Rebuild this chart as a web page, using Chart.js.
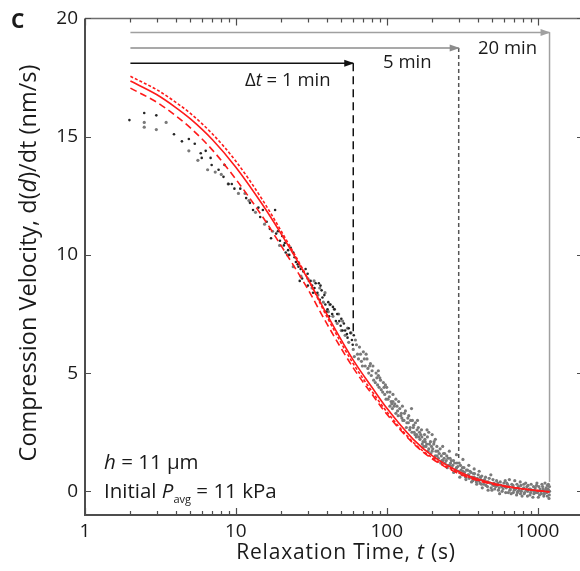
<!DOCTYPE html>
<html>
<head>
<meta charset="utf-8">
<script src="https://cdn.jsdelivr.net/npm/chart.js@4.4.1/dist/chart.umd.min.js"></script>
<style>
  html, body { margin: 0; padding: 0; background: #fff; overflow: hidden; }
  #wrap { width: 580px; height: 571px; overflow: hidden; }
  canvas { display: block; }
</style>
</head>
<body>
<div id="wrap"><canvas id="chart" width="590" height="571"></canvas></div>
<script>
// ------------------------------------------------------------
// Data (t in s, velocity in nm/s)
// ------------------------------------------------------------
const fitTime     = [2, 3, 4, 5, 7, 10, 15, 20, 30, 40, 60, 80, 100, 150, 200, 300, 400, 600, 800, 1000, 1200];
const fitVel      = [17.35, 16.77, 16.23, 15.75, 14.87, 13.71, 12.13, 10.88, 8.98, 7.5, 5.55, 4.39, 3.52, 2.2, 1.51, 0.84, 0.52, 0.24, 0.11, 0.03, -0.02];
const fitUpperVel = [17.55, 16.98, 16.45, 15.98, 15.11, 13.96, 12.33, 11.0, 9.0, 7.4, 5.4, 4.22, 3.37, 2.07, 1.42, 0.78, 0.48, 0.22, 0.1, 0.03, -0.02];
const fitLowerVel = [17.05, 16.45, 15.88, 15.37, 14.43, 13.2, 11.62, 10.38, 8.55, 7.1, 5.22, 4.1, 3.27, 2.03, 1.38, 0.75, 0.46, 0.21, 0.1, 0.03, -0.02];

// early measurements (dark dots)
const blackPoints = [
  [1.97,15.7],[2.47,16.0],[2.97,15.9],[3.89,15.1],[4.39,14.8],[4.88,14.9],[5.34,14.7],[5.85,14.3],
  [5.94,14.1],[6.31,14.4],[6.8,14.1],[6.91,13.8],[7.68,13.6],[8.41,13.8],[8.28,13.3],[8.93,13.0],
  [9.4,13.0],[9.78,12.8],[10.7,12.8],[11.7,12.4],[12.4,12.2],[13.0,11.9],[14.1,12.0],[14.5,11.6],
  [15.1,11.9],[16.0,11.4],[16.8,11.1],[17.1,10.7],[18.2,11.9],[19.0,11.0],[19.6,10.6],[20.3,10.8],
  [21.1,10.5],[21.4,10.1],[22.2,10.2],[23.1,10.3],[24.5,9.9],[25.0,9.7],[25.7,9.6],[26.5,8.9],
  [26.9,9.4],[28.0,9.3],[29.9,9.2],[30.5,8.9],[31.3,8.9],[32.0,8.7],[33.2,8.6],[34.7,8.4],
  [35.5,8.8],[36.4,8.7],[37.5,8.2],[38.6,8.3],[39.2,7.9],[39.8,7.6],[41.0,8.0],[42.3,7.9],
  [43.5,7.5],[45.0,7.7],[47.0,7.5],[48.5,7.2],[50.0,7.3],[52.0,7.1],[53.0,6.8],[54.5,6.65],
  [56.0,6.9],[58.8,6.4],[60.5,6.6],
  [18.5,10.9],[20.8,10.4],[22.6,10.0],[24.0,10.1],[26.0,9.5],[27.5,9.0],[29.0,9.4],[30.0,8.7],
  [32.5,8.4],[33.8,8.8],[36.0,8.1],[37.0,8.5],[40.5,7.7],[41.5,7.4],[44.0,7.8],[46.0,7.2],
  [49.5,7.0],[51.0,6.8],[55.0,6.5],[57.5,6.7],[59.5,6.2]
];

// later measurements (grey dots)
const grayPoints = [
  [2.47,15.4],[2.47,15.6],[2.97,15.3],[3.45,15.6],[4.88,14.4],[5.6,14.0],[6.5,13.6],[7.3,13.5],
  [8.0,13.4],[8.9,13.0],[10.4,12.6],[11.5,12.6],[12.2,12.3],[13.5,11.8],[15.5,11.3],[17.5,11.0],
  [19.5,10.4],[22.0,10.0],[24.0,9.5],[27.0,9.1],
  [30,9.0],[32,8.6],[33,8.9],[35,8.3],[36,8.6],[38,8.0],[39,8.4],
  [41,7.6],[42,7.9],[44,7.4],[45,7.7],[47,7.1],[48,7.5],[50,6.8],[51,7.2],[53,6.6],[55,6.9],
  [56,6.3],[58,6.7],[60,6.0],[62,6.4],
  [64,5.8],[65,5.6],[66,6.1],[68,5.5],[70,5.9],[72,5.3],[74,5.6],[75,5.2],[76,5.0],[78,5.4],
  [80,5.1],[82,4.7],[85,5.0],[87,4.5],[88,4.9],[88,5.1],[90,4.8],[92,4.3],[95,4.6],[97,4.1],
  [98,4.5],[100,4.4],[102,3.9],[105,4.2],[105,3.6],[108,3.7],[110,4.1],[110,3.8],[112,3.6],
  [115,3.9],[115,3.3],[118,3.4],[120,3.8],[124,3.2],[125,3.3],[127,3.6],[128,3.0],[130,3.0],
  [133,3.4],[136,2.9],[138,3.1],[140,3.2],[142,2.6],[143,2.7],[146,3.5],[148,3.0],[150,2.7],
  [152,2.5],[155,2.9],[157,2.3],[158,2.4],[160,3.0],[162,2.7],[165,2.5],[166,2.2],[170,2.6],
  [172,2.0],[174,2.1],[178,2.4],[180,2.1],[182,1.9],[185,2.6],[186,2.3],[188,1.7],[190,1.8],
  [190,2.5],[195,2.1],[198,1.9],[200,1.7],[200,2.4],[205,2.0],[208,1.4],[210,1.5],[210,2.2],
  [215,1.9],[218,1.7],[220,1.4],[226,1.8],[228,1.2],[232,1.3],[235,1.9],[238,1.6],[240,1.4],
  [244,1.2],[250,1.5],[252,1.0],[256,1.1],[260,1.7],[263,1.4],[265,1.2],[270,1.0],[277,1.3],
  [278,0.8],[284,0.9],[290,1.0],[290,1.55],[292,1.2],[300,0.85],[305,0.6],[308,1.1],[316,0.7],
  [320,0.85],[320,1.35],[325,1.0],[334,0.6],[335,0.5],[343,0.9],[350,0.7],[350,1.1],[352,0.55],
  [362,0.8],[365,0.4],[372,0.45],[380,0.6],[380,0.95],[382,0.75],[393,0.4],[395,0.3],[404,0.7],
  [410,0.85],[415,0.35],[420,0.5],[427,0.65],[430,0.15],[440,0.3],[452,0.6],[460,0.4],[465,0.2],
  [470,0.05],[478,0.55],[490,0.7],[492,0.15],[500,0.3],[506,0.5],[510,0.25],[520,0.1],[535,0.45],
  [540,0.25],[550,0.05],[560,-0.1],[566,0.4],[580,0.2],[582,0.0],[598,0.35],[610,0.45],[615,-0.05],
  [620,0.15],[632,0.3],[640,-0.05],[650,0.5],[660,0.1],[668,-0.1],[687,0.25],[690,-0.05],[700,0.05],
  [706,0.45],[726,-0.15],[730,0.3],[740,0.0],[746,0.2],[767,0.4],[770,-0.1],[780,0.0],[789,-0.2],
  [810,0.3],[811,0.15],[820,-0.05],[834,0.35],[850,0.2],[857,-0.2],[860,0.0],[881,0.1],[890,-0.15],
  [900,-0.05],[906,0.3],[931,-0.25],[940,0.2],[950,0.0],[957,0.05],[984,0.25],[990,0.35],[1000,-0.05],
  [1011,-0.25],[1030,-0.15],[1040,0.1],[1050,0.0],[1069,0.3],[1080,0.2],[1099,-0.2],[1100,0.0],
  [1120,0.35],[1130,0.05],[1150,-0.05],[1162,0.25],[1170,0.1],[1180,0.3],[1190,-0.3],[1195,-0.15],[1200,0.0],
  [61,5.7],[63,6.2],[67,5.8],[69,5.3],[71,5.6],[73,5.8],[77,5.3],[79,4.9],[81,5.3],[84,4.6],
  [86,4.8],[89,4.4],[91,4.7],[94,4.2],[96,4.4],[99,3.9],[101,4.2],[104,4.0],[107,3.8],[109,3.5],
  [113,3.7],[117,3.6],[119,3.2],[122,3.5],
  [126,3.1],[131,3.3],[135,2.7],[139,2.9],[144,3.0],[147,2.5],[151,2.8],[154,2.4],[159,2.6],
  [163,2.3],[168,2.4],[171,2.3],[176,1.9],[179,2.2],[184,2.0],[192,2.0],[196,1.6],[202,1.8],
  [206,2.1],[212,1.7],[216,1.5],[223,1.6],[230,1.5],[236,1.3],[242,1.6],[248,1.3],[255,1.4],
  [262,1.1],[268,1.3],[274,1.1],[282,1.2],[288,0.95],[296,1.05],[302,1.2],[311,0.9],[318,1.0],
  [328,0.8],[338,0.9],[346,0.7],[356,0.85],
  [368,0.6],[376,0.75],[388,0.5],[398,0.55],[408,0.45],[418,0.6],[424,0.3],[435,0.45],[445,0.5],
  [455,0.25],[470,0.4],[485,0.35],[498,0.05],[515,0.35],[528,0.2],[545,0.35],[556,0.15],[572,0.25],
  [590,0.1],[605,0.2],[625,0.35],[645,0.2],[655,0.05],[675,0.3],[695,0.15],[715,0.1],[735,-0.05],
  [755,0.05],[775,0.25],[795,0.1],[815,-0.1],[840,0.05],[865,0.25],[895,0.1],[915,0.05],[945,-0.1],
  [965,0.15],[975,-0.05],[1020,0.2],[1060,-0.1],[1090,0.1],[1110,-0.1],[1140,0.15],[1160,-0.2],
  [1185,0.05],[1198,0.2]
];

// analysis windows: 1, 5 and 20 min
const windowStart  = 2;
const windowEnds   = [60, 300, 1200];
const windowLevels = [18.1, 18.75, 19.4];
const windowFloors = [6.6, 1.4, 0.4];
const windowLabels = ['1 min', '5 min', '20 min'];

const xTickLabels = [1, 10, 100, 1000];
const yTickLabels = [0, 5, 10, 15, 20];

// ------------------------------------------------------------
const FONT = '"Open Sans", "DejaVu Sans", sans-serif';
const RED = '#ff1a1a';
const arrowColors = ['#111111', '#8c8c8c', '#a0a0a0'];
const dropDash    = [[8, 5], [4, 3], []];
const dropColors  = ['#111111', '#555555', '#a0a0a0'];

const toXY = (ts, vs) => ts.map((t, i) => ({ x: t, y: vs[i] }));
const pairs = list => list.map(p => ({ x: p[0], y: p[1] }));

function fitLine(values, dash) {
    return {
        type: 'line',
        data: toXY(fitTime, values),
        borderColor: RED,
        borderWidth: 1.6,
        borderDash: dash,
        pointRadius: 0,
        fill: false,
        cubicInterpolationMode: 'monotone',
        order: 0
    };
}

const datasets = [
    fitLine(fitVel, []),
    fitLine(fitUpperVel, [3, 2]),
    fitLine(fitLowerVel, [7, 4])
];

windowEnds.forEach((end, i) => {
    datasets.push({
        type: 'line',
        data: [{ x: windowStart, y: windowLevels[i] }, { x: end, y: windowLevels[i] }],
        borderColor: arrowColors[i], borderWidth: 1.5, pointRadius: 0, order: 1
    });
    datasets.push({
        type: 'line',
        data: [{ x: end, y: windowLevels[i] }, { x: end, y: windowFloors[i] }],
        borderColor: dropColors[i], borderWidth: 1.5, borderDash: dropDash[i], pointRadius: 0, order: 1
    });
});

datasets.push({
    type: 'scatter', data: pairs(blackPoints),
    backgroundColor: '#262626', borderWidth: 0, pointRadius: 1.3, order: 2
});
datasets.push({
    type: 'scatter', data: pairs(grayPoints),
    backgroundColor: '#7a7a7a', borderWidth: 0, pointRadius: 1.6, order: 3
});

// draw text made of several runs (normal / italic / subscript)
function drawRuns(ctx, runs, x, y, align, spacing) {
    ctx.letterSpacing = (spacing || 0) + 'px';
    let total = 0;
    runs.forEach(r => { ctx.font = r.font; total += ctx.measureText(r.text).width; });
    let cx = align === 'center' ? x - total / 2 : x;
    runs.forEach(r => {
        ctx.font = r.font;
        ctx.fillText(r.text, cx, y + (r.dy || 0));
        cx += ctx.measureText(r.text).width;
    });
    ctx.letterSpacing = '0px';
}

const frameAndNotes = {
    id: 'frameAndNotes',
    afterDatasetsDraw(chart) {
        const { ctx, scales: { x, y } } = chart;
        // arrow heads
        windowEnds.forEach((t, i) => {
            const px = x.getPixelForValue(t);
            const py = y.getPixelForValue(windowLevels[i]);
            ctx.save();
            ctx.fillStyle = arrowColors[i];
            ctx.beginPath();
            ctx.moveTo(px + 1, py);
            ctx.lineTo(px - 9, py - 3.5);
            ctx.lineTo(px - 9, py + 3.5);
            ctx.closePath();
            ctx.fill();
            ctx.restore();
        });
    },
    afterDraw(chart) {
        const { ctx, chartArea: a, scales: { x, y } } = chart;
        ctx.save();

        // frame
        ctx.strokeStyle = '#4d4d4d';
        ctx.lineWidth = 2;
        ctx.beginPath();
        ctx.moveTo(a.left, a.top); ctx.lineTo(a.left, a.bottom); ctx.lineTo(a.right, a.bottom);
        ctx.stroke();
        ctx.strokeStyle = '#6e6e6e';
        ctx.lineWidth = 1.5;
        ctx.beginPath();
        ctx.moveTo(a.left, a.top); ctx.lineTo(a.right, a.top); ctx.lineTo(a.right, a.bottom);
        ctx.stroke();

        // inward ticks, log minors on x
        ctx.lineWidth = 1.2;
        ctx.strokeStyle = '#4d4d4d';
        ctx.beginPath();
        xTickLabels.forEach(d => {
            for (let k = 1; k <= 9; k++) {
                const v = d * k;
                if (v > x.max) break;
                const px = Math.round(x.getPixelForValue(v)) + 0.5;
                const len = k === 1 ? 7 : 4;
                ctx.moveTo(px, a.bottom); ctx.lineTo(px, a.bottom - len);
                ctx.moveTo(px, a.top); ctx.lineTo(px, a.top + len);
            }
        });
        yTickLabels.forEach(v => {
            const py = Math.round(y.getPixelForValue(v)) + 0.5;
            ctx.moveTo(a.left, py); ctx.lineTo(a.left + 6, py);
            ctx.moveTo(a.right, py); ctx.lineTo(a.right - 6, py);
        });
        ctx.stroke();

        ctx.fillStyle = '#1a1a1a';
        ctx.textBaseline = 'middle';
        ctx.textAlign = 'left';

        // panel letter
        ctx.font = 'bold 21px ' + FONT;
        ctx.fillText('C', 11, 22);

        // axis titles
        const n21 = '21px ' + FONT, i21 = 'italic 21px ' + FONT;
        drawRuns(ctx, [
            { text: 'Relaxation Time, ', font: n21 },
            { text: 't', font: i21 },
            { text: ' (s)', font: n21 }
        ], 346, 553, 'center', 0.8);

        const n24 = '23.5px ' + FONT, i24 = 'italic 23.5px ' + FONT;
        ctx.save();
        ctx.translate(29, 263);
        ctx.rotate(-Math.PI / 2);
        drawRuns(ctx, [
            { text: 'Compression Velocity, d(', font: n24 },
            { text: 'd', font: i24 },
            { text: ')/dt (nm/s)', font: n24 }
        ], 0, 0, 'center', 0);
        ctx.restore();

        // window labels
        const n18 = '18.5px ' + FONT, i18 = 'italic 18.5px ' + FONT;
        drawRuns(ctx, [
            { text: '\u0394', font: n18 },
            { text: 't', font: i18 },
            { text: ' = ' + windowLabels[0], font: n18 }
        ], 245, 81, 'left', 0);
        ctx.font = n18;
        ctx.fillText(windowLabels[1], 383, 63);
        ctx.fillText(windowLabels[2], 478, 49);

        // sample notes
        const n20 = '20.5px ' + FONT, i20 = 'italic 20.5px ' + FONT;
        drawRuns(ctx, [
            { text: 'h', font: i20 },
            { text: ' = 11 \u03bcm', font: n20 }
        ], 104, 463, 'left', 0);
        drawRuns(ctx, [
            { text: 'Initial ', font: n20 },
            { text: 'P', font: i20 },
            { text: 'avg', font: '11px ' + FONT, dy: 8 },
            { text: ' = 11 kPa', font: n20 }
        ], 104, 492, 'left', 0);

        ctx.restore();
    }
};

new Chart(document.getElementById('chart'), {
    type: 'scatter',
    data: { datasets },
    options: {
        responsive: false,
        animation: false,
        devicePixelRatio: 1,
        layout: { padding: { left: 0, top: 17, right: 7, bottom: 0 } },
        plugins: { legend: { display: false }, tooltip: { enabled: false } },
        scales: {
            x: {
                type: 'logarithmic',
                min: 1,
                max: 2000,
                grid: { display: false, drawTicks: false },
                border: { display: false },
                afterBuildTicks: s => { s.ticks = xTickLabels.map(v => ({ value: v })); },
                afterFit: s => { s.height = 56; },
                ticks: {
                    autoSkip: false, maxRotation: 0, padding: 5,
                    color: '#1a1a1a', font: { family: FONT, size: 19 },
                    callback: v => String(v)
                }
            },
            y: {
                type: 'linear',
                min: -1,
                max: 20,
                grid: { display: false, drawTicks: false },
                border: { display: false },
                afterBuildTicks: s => { s.ticks = yTickLabels.map(v => ({ value: v })); },
                afterFit: s => { s.width = 85; },
                ticks: {
                    padding: 7,
                    color: '#1a1a1a', font: { family: FONT, size: 19 },
                    callback: v => String(v)
                }
            }
        }
    },
    plugins: [frameAndNotes]
});
</script>
</body>
</html>
